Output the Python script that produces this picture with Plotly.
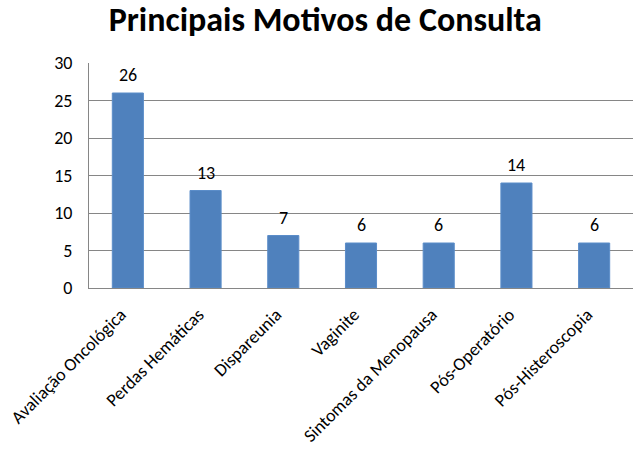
import plotly.graph_objects as go

categories = ["Avaliação Oncológica", "Perdas Hemáticas", "Dispareunia", "Vaginite",
              "Sintomas da Menopausa", "Pós-Operatório", "Pós-Histeroscopia"]
values = [26, 13, 7, 6, 6, 14, 6]
y_ticks = [0, 5, 10, 15, 20, 25, 30]

FONT = "Carlito, Calibri, Lato, sans-serif"

fig = go.Figure()
fig.add_trace(go.Bar(
    x=categories, y=values,
    marker=dict(color="#4F81BD", line=dict(color="#5B8DC9", width=1)),
    hoverinfo="skip",
))

for c, v in zip(categories, values):
    fig.add_annotation(x=c, y=v, text=str(v), showarrow=False,
                       yanchor="bottom", yshift=5,
                       font=dict(family=FONT, size=18, color="#000000"))

fig.update_layout(
    width=634, height=449,
    margin=dict(l=89, r=1, t=63, b=161, autoexpand=False),
    paper_bgcolor="white", plot_bgcolor="white",
    bargap=0.6,
    showlegend=False,
    title=dict(text="<b>Principais Motivos de Consulta</b>",
               x=0.513, xanchor="center", xref="container",
               yref="container", y=0.985, yanchor="top",
               font=dict(family=FONT, size=34, color="#000000")),
    font=dict(family=FONT, size=18, color="#000000"),
)
fig.update_xaxes(
    tickangle=-45, tickfont=dict(family=FONT, size=18, color="#000000"),
    showline=True, linecolor="#868686", linewidth=1,
    ticks="", showgrid=False, automargin=False,
    ticklabelstandoff=8, ticklabelshift=-7,
)
fig.update_yaxes(
    range=[0, 30], tickvals=y_ticks,
    tickfont=dict(family=FONT, size=18, color="#000000"),
    showline=True, linecolor="#868686", linewidth=1,
    showgrid=True, gridcolor="#868686", gridwidth=1,
    ticks="", ticklabelstandoff=12, zeroline=False, automargin=False,
)

fig.write_html("out.html", config={"displayModeBar": False},
               post_script="document.body.style.margin='0px';")
